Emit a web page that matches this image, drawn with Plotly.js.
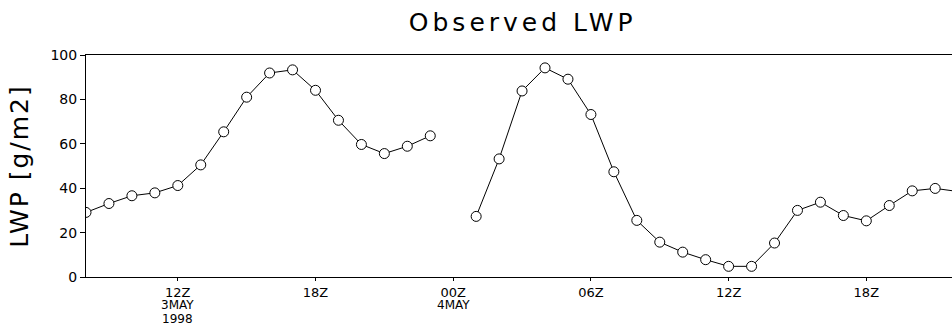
<!DOCTYPE html>
<html>
<head>
<meta charset="utf-8">
<script src="https://cdn.plot.ly/plotly-3.0.1.min.js"></script>
<style>
  html, body { margin: 0; padding: 0; background: #fff; }
  #chart { width: 952px; height: 330px; }
  .gtitle { letter-spacing: 4px; }
  .ytitle { letter-spacing: 2px; }
</style>
</head>
<body>
<div id="chart"></div>
<script>
// Hourly observation times (UTC)
const times = [
  '1998-05-03 08:00','1998-05-03 09:00','1998-05-03 10:00','1998-05-03 11:00',
  '1998-05-03 12:00','1998-05-03 13:00','1998-05-03 14:00','1998-05-03 15:00',
  '1998-05-03 16:00','1998-05-03 17:00','1998-05-03 18:00','1998-05-03 19:00',
  '1998-05-03 20:00','1998-05-03 21:00','1998-05-03 22:00','1998-05-03 23:00',
  '1998-05-04 00:00','1998-05-04 01:00','1998-05-04 02:00','1998-05-04 03:00',
  '1998-05-04 04:00','1998-05-04 05:00','1998-05-04 06:00','1998-05-04 07:00',
  '1998-05-04 08:00','1998-05-04 09:00','1998-05-04 10:00','1998-05-04 11:00',
  '1998-05-04 12:00','1998-05-04 13:00','1998-05-04 14:00','1998-05-04 15:00',
  '1998-05-04 16:00','1998-05-04 17:00','1998-05-04 18:00','1998-05-04 19:00',
  '1998-05-04 20:00','1998-05-04 21:00','1998-05-04 22:00'
];
// Observed liquid water path [g/m2]; null = missing observation
const lwp = [
  29.1, 33.1, 36.6, 37.9, 41.2, 50.5, 65.4, 81.0,
  91.9, 93.3, 84.1, 70.6, 59.7, 55.6, 58.9, 63.6,
  null, 27.3, 53.2, 83.8, 94.2, 89.1, 73.2, 47.4,
  25.5, 15.7, 11.2, 7.8, 4.8, 4.8, 15.3, 30.0,
  33.7, 27.7, 25.3, 32.2, 38.8, 39.9, 38.5
];
// X-axis ticks
const tickTimes = ['1998-05-03 12:00','1998-05-03 18:00','1998-05-04 00:00',
                   '1998-05-04 06:00','1998-05-04 12:00','1998-05-04 18:00'];
const tickText = ['12Z','18Z','00Z','06Z','12Z','18Z'];
// Date sub-labels under hour ticks
const dateLabelTimes = ['1998-05-03 12:00','1998-05-03 12:00','1998-05-04 00:00'];
const dateLabelText = ['3MAY','1998','4MAY'];
const dateLabelRow = [1, 2, 1];
const yTicks = [0, 20, 40, 60, 80, 100];
const xRange = ['1998-05-03 08:00','1998-05-04 21:44'];
const yRange = [0, 100];

const fontFam = 'DejaVu Sans, Liberation Sans, sans-serif';
const annotations = dateLabelText.map((t, i) => ({
  x: dateLabelTimes[i], xref: 'x',
  y: 0, yref: 'paper',
  yshift: -14 - 14 * dateLabelRow[i],
  text: t, showarrow: false,
  xanchor: 'center', yanchor: 'middle',
  font: {family: fontFam, size: 12, color: '#000'}
}));

const trace = {
  x: times, y: lwp,
  type: 'scatter', mode: 'lines+markers',
  connectgaps: false,
  line: {color: '#000', width: 1},
  marker: {symbol: 'circle', size: 10, color: '#fff', line: {color: '#000', width: 1}},
  hoverinfo: 'skip'
};

const layout = {
  width: 952, height: 330,
  margin: {l: 86, r: 0, t: 55, b: 53},
  paper_bgcolor: '#fff', plot_bgcolor: '#fff',
  showlegend: false,
  title: {
    text: 'Observed LWP',
    font: {family: fontFam, size: 25, color: '#000'},
    x: 0.549, xanchor: 'center', xref: 'container',
    y: 0.933, yanchor: 'middle', yref: 'container'
  },
  xaxis: {
    type: 'date', range: xRange,
    tickmode: 'array', tickvals: tickTimes, ticktext: tickText,
    ticks: 'outside', ticklen: 3, tickcolor: '#000', tickwidth: 1,
    showgrid: false, zeroline: false,
    showline: true, linecolor: '#000', linewidth: 1, mirror: true,
    tickfont: {family: fontFam, size: 13, color: '#000'}
  },
  yaxis: {
    range: yRange, tickmode: 'array', tickvals: yTicks,
    ticks: 'outside', ticklen: 5, tickcolor: '#000', tickwidth: 1,
    showgrid: false, zeroline: false,
    showline: true, linecolor: '#000', linewidth: 1,
    tickfont: {family: fontFam, size: 14, color: '#000'},
    title: {text: 'LWP [g/m2]', font: {family: fontFam, size: 25, color: '#000'}, standoff: 14}
  },
  annotations: annotations
};

Plotly.newPlot('chart', [trace], layout, {staticPlot: true, displayModeBar: false});
</script>
</body>
</html>
